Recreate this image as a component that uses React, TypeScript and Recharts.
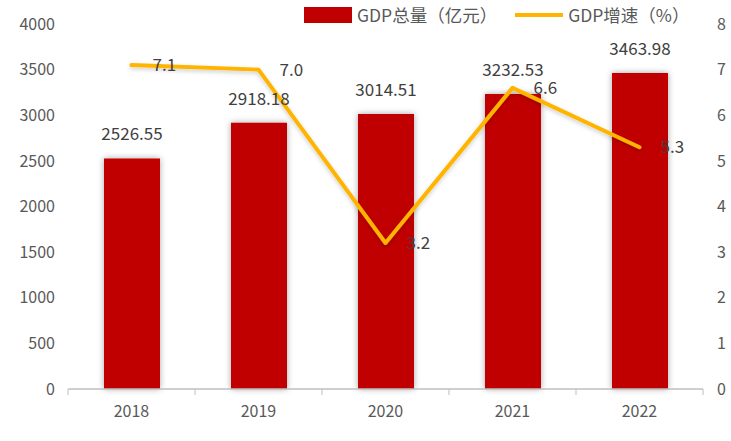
import React from "react";
import {
  ComposedChart,
  Bar,
  Line,
  XAxis,
  YAxis,
  LabelList,
} from "recharts";

const years = ["2018", "2019", "2020", "2021", "2022"];
const gdpTotal = [2526.55, 2918.18, 3014.51, 3232.53, 3463.98];
const gdpGrowth = [7.1, 7.0, 3.2, 6.6, 5.3];
const leftTicks = [0, 500, 1000, 1500, 2000, 2500, 3000, 3500, 4000];
const rightTicks = [0, 1, 2, 3, 4, 5, 6, 7, 8];

const BAR_COLOR = "#C00000";
const LINE_COLOR = "#FFB400";
const TEXT = "#595959";
const FONT = '"Noto Sans CJK SC", "Noto Sans", sans-serif';

const W = 731;
const H = 441;
const LEFT_W = 68;
const RIGHT_W = 28;

const data = years.map((year, i) => ({
  year,
  total: gdpTotal[i],
  growth: gdpGrowth[i],
}));

const band = (W - LEFT_W - RIGHT_W) / years.length;

function XTick(props: any) {
  const { x, y, payload, index } = props;
  const left = x - band / 2;
  return (
    <g>
      <line x1={left} x2={left} y1={y - 8} y2={y - 2} stroke="#BFBFBF" />
      {index === years.length - 1 && (
        <line x1={x + band / 2} x2={x + band / 2} y1={y - 8} y2={y - 2} stroke="#BFBFBF" />
      )}
      <text x={x} y={y + 20} textAnchor="middle" fill={TEXT} fontSize={16} fontFamily={FONT}>
        {payload.value}
      </text>
    </g>
  );
}

function LegendBox() {
  return (
    <div
      style={{
        position: "absolute",
        left: 304,
        top: 2,
        display: "flex",
        alignItems: "center",
        fontFamily: FONT,
        fontSize: 17.5,
        color: TEXT,
        whiteSpace: "nowrap",
      }}
    >
      <span style={{ display: "inline-block", width: 48, height: 16, background: BAR_COLOR, marginRight: 5 }} />
      <span>GDP总量（亿元）</span>
      <span style={{ display: "inline-block", width: 48, height: 4, background: LINE_COLOR, marginLeft: 18, marginRight: 5 }} />
      <span>GDP增速（%）</span>
    </div>
  );
}

export default function App() {
  return (
    <div style={{ position: "absolute", left: 0, top: 0, width: W, height: H, background: "#fff" }}>
      <ComposedChart
        width={W}
        height={H}
        data={data}
        margin={{ top: 24, right: 0, bottom: 22, left: 0 }}
        barCategoryGap="28%"
      >
        <defs>
          <filter id="barShadow" x="-30%" y="-10%" width="160%" height="120%">
            <feDropShadow dx="0" dy="0" stdDeviation="3" floodColor="#000" floodOpacity="0.35" />
          </filter>
          <filter id="lineShadow" x="-10%" y="-20%" width="120%" height="140%">
            <feDropShadow dx="0" dy="2" stdDeviation="2" floodColor="#000" floodOpacity="0.2" />
          </filter>
        </defs>
        <XAxis
          dataKey="year"
          height={30}
          axisLine={{ stroke: "#BFBFBF", strokeWidth: 1.5 }}
          tickLine={false}
          tick={<XTick />}
          interval={0}
        />
        <YAxis
          yAxisId="left"
          width={LEFT_W}
          domain={[0, 4000]}
          ticks={leftTicks}
          axisLine={false}
          tickLine={false}
          tickMargin={7}
          tick={{ fill: TEXT, fontSize: 16, fontFamily: FONT }}
          interval={0}
        />
        <YAxis
          yAxisId="right"
          orientation="right"
          width={RIGHT_W}
          domain={[0, 8]}
          ticks={rightTicks}
          axisLine={false}
          tickLine={false}
          tickMargin={8}
          tick={{ fill: TEXT, fontSize: 16, fontFamily: FONT }}
          interval={0}
        />
        <Bar
          yAxisId="left"
          dataKey="total"
          fill={BAR_COLOR}
          barSize={56}
          filter="url(#barShadow)"
          isAnimationActive={false}
        >
          <LabelList
            dataKey="total"
            position="top"
            offset={18}
            fill="#404040"
            fontSize={17}
            fontFamily={FONT}
            formatter={(v: any) => Number(v).toFixed(2)}
          />
        </Bar>
        <Line
          yAxisId="right"
          dataKey="growth"
          stroke={LINE_COLOR}
          strokeWidth={4}
          dot={false}
          activeDot={false}
          strokeLinejoin="round"
          strokeLinecap="round"
          filter="url(#lineShadow)"
          isAnimationActive={false}
        >
          <LabelList
            dataKey="growth"
            position="right"
            offset={21}
            fill="#404040"
            fontSize={17}
            fontFamily={FONT}
            formatter={(v: any) => Number(v).toFixed(1)}
          />
        </Line>
      </ComposedChart>
      <LegendBox />
    </div>
  );
}
